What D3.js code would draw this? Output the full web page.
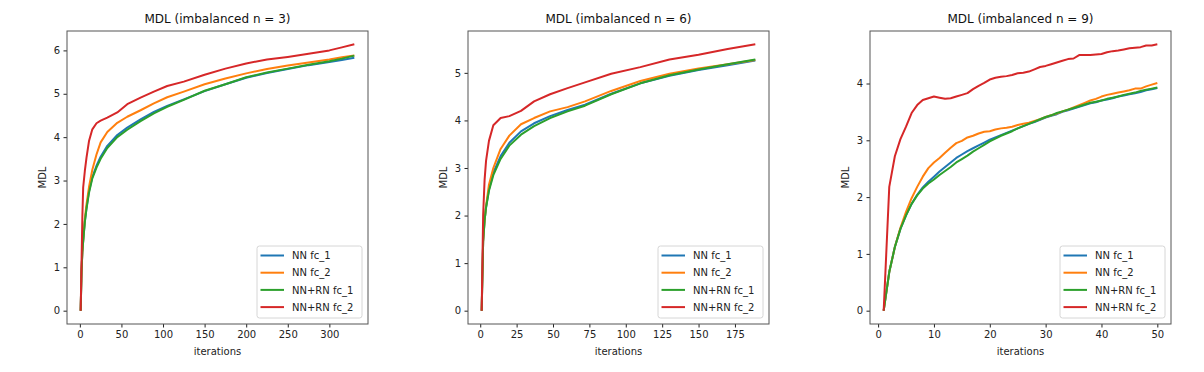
<!DOCTYPE html>
<html>
<head>
<meta charset="utf-8">
<title>MDL imbalanced</title>
<script src="https://cdn.jsdelivr.net/npm/d3@7"></script>
<style>
  body { margin: 0; background: #fff; }
  text { font-family: "DejaVu Sans", sans-serif; }
</style>
</head>
<body>
<div id="chart"></div>
<script>
// series names & colours (matplotlib tab10)
var seriesNames = ['NN fc_1', 'NN fc_2', 'NN+RN fc_1', 'NN+RN fc_2'];
var seriesColors = ['#1f77b4', '#ff7f0e', '#2ca02c', '#d62728'];

// panel 1 : imbalanced n = 3
var p1X      = [1, 2, 3, 4, 6, 8, 11, 15, 20, 25, 33, 45, 57, 73, 89, 105, 125, 150, 175, 200, 225, 250, 275, 300, 315, 330];
var p1Blue   = [0, 0.9, 1.35, 1.6, 2.05, 2.37, 2.75, 3.08, 3.34, 3.55, 3.8, 4.05, 4.22, 4.41, 4.58, 4.72, 4.87, 5.06, 5.22, 5.37, 5.48, 5.57, 5.66, 5.73, 5.78, 5.83];
var p1Orange = [0, 0.9, 1.35, 1.62, 2.12, 2.45, 2.85, 3.25, 3.6, 3.88, 4.12, 4.33, 4.47, 4.62, 4.78, 4.92, 5.05, 5.22, 5.35, 5.47, 5.57, 5.65, 5.72, 5.79, 5.84, 5.88];
var p1Green  = [0, 0.9, 1.35, 1.6, 2.05, 2.35, 2.72, 3.05, 3.3, 3.5, 3.75, 4.0, 4.17, 4.37, 4.55, 4.70, 4.86, 5.07, 5.22, 5.38, 5.49, 5.58, 5.67, 5.75, 5.81, 5.88];
var p1Red    = [0, 1.08, 2.15, 2.84, 3.22, 3.53, 3.91, 4.18, 4.32, 4.38, 4.45, 4.57, 4.76, 4.91, 5.05, 5.18, 5.28, 5.44, 5.58, 5.70, 5.79, 5.85, 5.92, 6.00, 6.07, 6.14];
var p1XTicks = [0, 50, 100, 150, 200, 250, 300];
var p1YTicks = [0, 1, 2, 3, 4, 5, 6];

// panel 2 : imbalanced n = 6
var p2X      = [1, 2, 3, 4, 6, 9, 14, 20, 28, 37, 48, 60, 72, 90, 110, 130, 150, 170, 189];
var p2Blue   = [0, 1.45, 1.9, 2.17, 2.55, 2.9, 3.25, 3.53, 3.77, 3.94, 4.09, 4.22, 4.33, 4.56, 4.78, 4.94, 5.06, 5.16, 5.26];
var p2Orange = [0, 1.45, 1.9, 2.2, 2.65, 3.0, 3.40, 3.68, 3.92, 4.05, 4.19, 4.28, 4.40, 4.62, 4.83, 4.98, 5.09, 5.18, 5.27];
var p2Green  = [0, 1.45, 1.9, 2.17, 2.52, 2.85, 3.19, 3.47, 3.70, 3.88, 4.05, 4.19, 4.31, 4.55, 4.78, 4.95, 5.07, 5.18, 5.28];
var p2Red    = [0, 2.0, 2.75, 3.15, 3.57, 3.9, 4.05, 4.09, 4.2, 4.4, 4.55, 4.68, 4.8, 4.98, 5.12, 5.28, 5.38, 5.50, 5.60];
var p2XTicks = [0, 25, 50, 75, 100, 125, 150, 175];
var p2YTicks = [0, 1, 2, 3, 4, 5];

// panel 3 : imbalanced n = 9 (every iteration)
var p3X      = d3.range(1, 51);
var p3Blue   = [0, 0.68, 1.12, 1.44, 1.68, 1.88, 2.04, 2.17, 2.27, 2.36, 2.45, 2.53, 2.61, 2.69, 2.75, 2.81, 2.86, 2.91, 2.96, 3.01,
                3.05, 3.09, 3.13, 3.17, 3.21, 3.25, 3.29, 3.32, 3.36, 3.40, 3.43, 3.46, 3.50, 3.53, 3.56, 3.59, 3.62, 3.65, 3.67, 3.70,
                3.72, 3.74, 3.77, 3.79, 3.81, 3.83, 3.85, 3.88, 3.90, 3.92];
var p3Orange = [0, 0.68, 1.12, 1.46, 1.74, 1.98, 2.18, 2.36, 2.51, 2.61, 2.69, 2.78, 2.87, 2.95, 2.99, 3.05, 3.08, 3.12, 3.15, 3.16,
                3.19, 3.21, 3.22, 3.24, 3.27, 3.29, 3.31, 3.34, 3.37, 3.41, 3.44, 3.47, 3.51, 3.54, 3.58, 3.62, 3.66, 3.70, 3.73, 3.77,
                3.80, 3.82, 3.84, 3.86, 3.88, 3.91, 3.91, 3.95, 3.98, 4.01];
var p3Green  = [0, 0.68, 1.12, 1.44, 1.68, 1.88, 2.03, 2.15, 2.24, 2.31, 2.39, 2.46, 2.53, 2.61, 2.67, 2.73, 2.80, 2.86, 2.92, 2.98,
                3.03, 3.08, 3.12, 3.16, 3.21, 3.25, 3.29, 3.33, 3.37, 3.41, 3.44, 3.48, 3.51, 3.54, 3.57, 3.60, 3.63, 3.66, 3.68, 3.70,
                3.73, 3.75, 3.77, 3.80, 3.82, 3.84, 3.87, 3.89, 3.91, 3.93];
var p3Red    = [0, 2.18, 2.72, 3.02, 3.24, 3.48, 3.62, 3.71, 3.74, 3.77, 3.75, 3.73, 3.74, 3.77, 3.80, 3.83, 3.90, 3.96, 4.01, 4.07,
                4.10, 4.12, 4.13, 4.15, 4.18, 4.19, 4.21, 4.25, 4.29, 4.31, 4.34, 4.37, 4.40, 4.43, 4.44, 4.50, 4.50, 4.50, 4.51, 4.52,
                4.55, 4.57, 4.58, 4.60, 4.62, 4.63, 4.64, 4.67, 4.67, 4.69];
var p3XTicks = [0, 10, 20, 30, 40, 50];
var p3YTicks = [0, 1, 2, 3, 4];

var panels = [
  { title: 'MDL (imbalanced n = 3)', left: 67,  x: p1X, ys: [p1Blue, p1Orange, p1Green, p1Red], xt: p1XTicks, yt: p1YTicks },
  { title: 'MDL (imbalanced n = 6)', left: 468, x: p2X, ys: [p2Blue, p2Orange, p2Green, p2Red], xt: p2XTicks, yt: p2YTicks },
  { title: 'MDL (imbalanced n = 9)', left: 870, x: p3X, ys: [p3Blue, p3Orange, p3Green, p3Red], xt: p3XTicks, yt: p3YTicks }
];

var svg = d3.select('#chart').append('svg')
  .attr('width', 1204)
  .attr('height', 372);

var pw = 301, plotTop = 31, ph = 293;

function pad(ext) {
  var r = ext[1] - ext[0];
  return [ext[0] - 0.05 * r, ext[1] + 0.05 * r];
}

panels.forEach(function(p) {
  var g = svg.append('g').attr('transform', 'translate(' + p.left + ',' + plotTop + ')');

  var x = d3.scaleLinear().domain(pad(d3.extent(p.x))).range([0, pw]);
  var yMax = d3.max(p.ys, function(s) { return d3.max(s); });
  var y = d3.scaleLinear().domain(pad([0, yMax])).range([ph, 0]);

  var line = d3.line()
    .x(function(d, i) { return x(p.x[i]); })
    .y(function(d) { return y(d); });

  p.ys.forEach(function(s, k) {
    g.append('path')
      .datum(s)
      .attr('d', line)
      .attr('fill', 'none')
      .attr('stroke', seriesColors[k])
      .attr('stroke-width', 2)
      .attr('stroke-linejoin', 'round');
  });

  var xa = g.append('g').attr('transform', 'translate(0,' + ph + ')')
    .call(d3.axisBottom(x).tickValues(p.xt).tickFormat(d3.format('d'))
      .tickSize(3.5).tickPadding(3.5).tickSizeOuter(0));
  var ya = g.append('g')
    .call(d3.axisLeft(y).tickValues(p.yt).tickFormat(d3.format('d'))
      .tickSize(3.5).tickPadding(3.5).tickSizeOuter(0));
  [xa, ya].forEach(function(a) {
    a.select('.domain').remove();
    a.selectAll('text').attr('font-size', 10).attr('fill', '#222').style('font-family', '"DejaVu Sans", sans-serif');
    a.selectAll('line').attr('stroke', '#222');
  });

  // frame
  g.append('rect')
    .attr('x', 0).attr('y', 0).attr('width', pw).attr('height', ph)
    .attr('fill', 'none').attr('stroke', '#555').attr('stroke-width', 1);

  // titles and labels
  g.append('text').attr('x', pw / 2).attr('y', -8)
    .attr('text-anchor', 'middle').attr('font-size', 12).attr('fill', '#111')
    .text(p.title);
  g.append('text').attr('x', pw / 2).attr('y', ph + 31)
    .attr('text-anchor', 'middle').attr('font-size', 10).attr('fill', '#222')
    .text('iterations');
  g.append('text')
    .attr('transform', 'translate(' + (-21) + ',' + (ph / 2) + ') rotate(-90)')
    .attr('text-anchor', 'middle').attr('font-size', 10).attr('fill', '#222')
    .text('MDL');

  // legend
  var lw = 105, lh = 72;
  var lg = g.append('g').attr('transform', 'translate(' + (pw - 6 - lw) + ',' + (ph - 6 - lh) + ')');
  lg.append('rect').attr('width', lw).attr('height', lh).attr('rx', 2.5)
    .attr('fill', 'rgba(255,255,255,0.8)').attr('stroke', '#d6d6d6').attr('stroke-width', 1);
  seriesNames.forEach(function(n, k) {
    var yy = 9.5 + k * 17.2;
    lg.append('line').attr('x1', 3.5).attr('x2', 27).attr('y1', yy).attr('y2', yy)
      .attr('stroke', seriesColors[k]).attr('stroke-width', 2);
    lg.append('text').attr('x', 35).attr('y', yy + 3.6)
      .attr('font-size', 10).attr('fill', '#222').text(n);
  });
});
</script>
</body>
</html>
